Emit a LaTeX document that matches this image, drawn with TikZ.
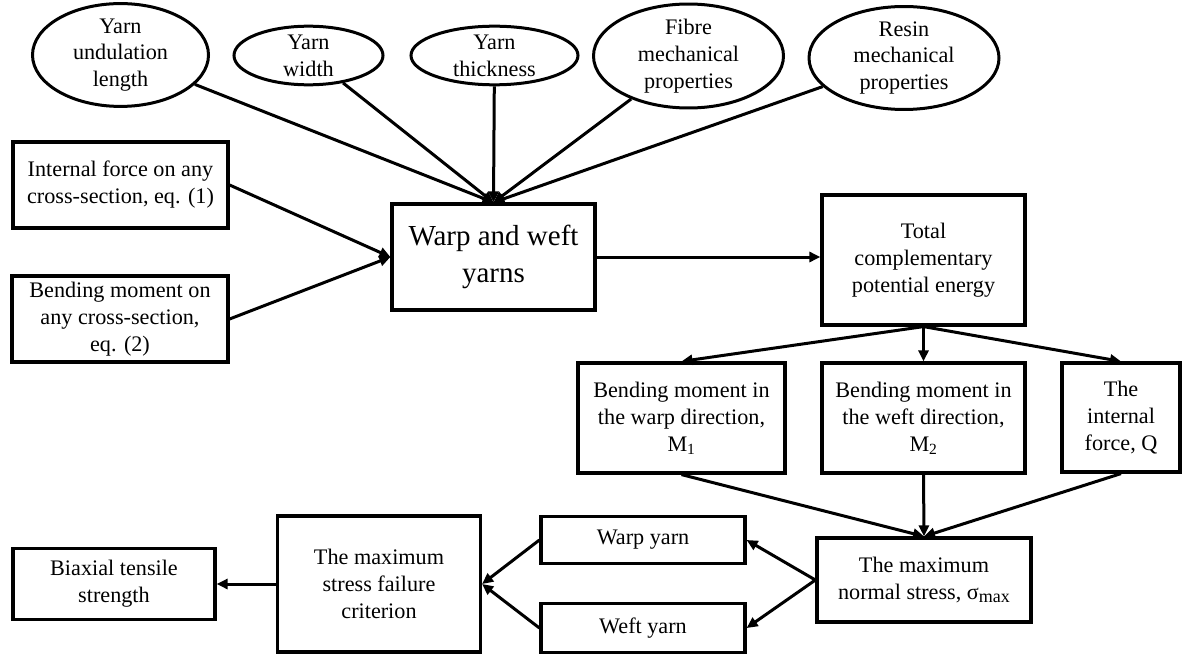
\documentclass[tikz,border=0pt]{standalone}
\usepackage{fontspec}
\setmainfont{Liberation Serif}
\usetikzlibrary{arrows.meta,shapes.geometric}

\begin{document}
\begin{tikzpicture}[x=1pt,y=-1pt,
        box/.style={draw,line width=3.2pt,rectangle,inner sep=0pt,align=center,font=\fontsize{22.2}{27}\selectfont},
        oval/.style={draw,line width=3pt,ellipse,inner sep=0pt,align=center,font=\fontsize{22.2}{26.7}\selectfont},
        arr/.style={line width=3pt,-{Triangle[length=11pt,width=10pt]}}]
        \useasboundingbox (0,0) rectangle (1182,655);
        %% parameters of the yarns
        \node[oval,minimum width=176pt,minimum height=93pt] (undul) at (120.5,55) {Yarn\\undulation\\length};
        \node[oval,minimum width=149pt,minimum height=52pt] (ywidth) at (308.5,55.5) {Yarn\\width};
        \node[oval,minimum width=167pt,minimum height=52pt] (ythick) at (494.5,55.5) {Yarn\\thickness};
        \node[oval,minimum width=190pt,minimum height=98pt] (fibre) at (688.5,56) {Fibre\\mechanical\\properties};
        \node[oval,minimum width=190pt,minimum height=97pt] (resin) at (904,58) {Resin\\mechanical\\properties};
        %% loads on the cross-section
        \node[box,minimum width=215pt,minimum height=86pt] (force) at (120.5,185) {Internal force on any\\cross-section, eq. (1)};
        \node[box,minimum width=216pt,minimum height=86pt] (moment) at (120,319) {Bending moment on\\any cross-section,\\eq. (2)};
        \node[box,minimum width=203pt,minimum height=106pt,font=\fontsize{29}{36.7}\selectfont] (yarns) at (493.5,257) {Warp and weft\\yarns};
        %% energy and internal forces
        \node[box,minimum width=203pt,minimum height=130pt] (energy) at (923.5,260) {Total\\complementary\\potential energy};
        \node[box,minimum width=207pt,minimum height=110pt] (mwarp) at (681.5,418) {Bending moment in\\the warp direction,\\M\textsubscript{1}};
        \node[box,minimum width=203pt,minimum height=110pt] (mweft) at (923.5,418) {Bending moment in\\the weft direction,\\M\textsubscript{2}};
        \node[box,minimum width=118pt,minimum height=109pt] (shear) at (1121,417.5) {The\\internal\\force, Q};
        %% stress and failure
        \node[box,minimum width=214pt,minimum height=84pt] (smax) at (924,580) {The maximum\\normal stress, σ\raisebox{-0.3ex}{\fontsize{18}{18}\selectfont max}};
        \node[box,minimum width=204pt,minimum height=47pt] (warpyarn) at (643,540) {Warp yarn};
        \node[box,minimum width=204pt,minimum height=49pt] (weftyarn) at (643,628) {Weft yarn};
        \node[box,minimum width=203pt,minimum height=136pt] (crit) at (379,584) {The maximum\\stress failure\\criterion};
        \node[box,minimum width=202pt,minimum height=71pt] (strength) at (114,584) {Biaxial tensile\\strength};
        %% connectors
        \foreach \n in {undul,ywidth,ythick,fibre,resin}
            \draw[arr] (\n) -- (yarns.north);
        \draw[arr] (force.east) -- (yarns.west);
        \draw[arr] (moment.east) -- (yarns.west);
        \draw[arr] (yarns.east) -- (yarns.east -| energy.west);
        \foreach \n in {mwarp,mweft,shear} {
            \draw[arr] (energy.south) -- (\n.north);
            \draw[arr] (\n.south) -- (smax.north);
        }
        \draw[arr] (smax.west) -- (warpyarn.east);
        \draw[arr] (smax.west) -- (weftyarn.east);
        \draw[arr] (warpyarn.west) -- (crit.east);
        \draw[arr] (weftyarn.west) -- (crit.east);
        \draw[arr] (crit.west) -- (strength.east);
    \end{tikzpicture}
\end{document}
